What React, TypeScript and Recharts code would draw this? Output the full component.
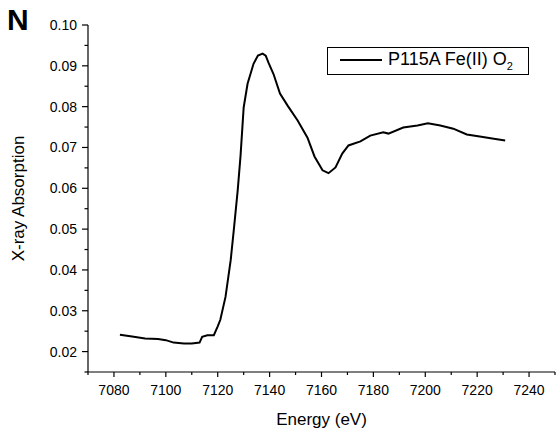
import { LineChart, Line, XAxis, YAxis, Legend } from "recharts";

const FONT = "'Liberation Sans', Arial, sans-serif";

// energy (eV) and absorption
const ENERGY = [
  7082.3, 7087, 7092, 7097, 7100, 7103, 7107, 7110, 7113, 7114, 7116, 7118.5,
  7120, 7121, 7123, 7125, 7126.2, 7127.7, 7128.8, 7130, 7131.5, 7133.8, 7135.5,
  7137.3, 7138.5, 7139.6, 7141.5, 7144, 7147, 7150.8, 7154.6, 7157.3, 7160.4,
  7162.7, 7165.4, 7168, 7170.4, 7175, 7178.8, 7183.8, 7185.8, 7191.5, 7197,
  7201, 7205.8, 7210.8, 7216, 7221, 7225.8, 7230.8,
];
const ABSORPTION = [
  0.0241, 0.0237, 0.0232, 0.0231, 0.0228, 0.0222, 0.022, 0.022, 0.0222, 0.0236,
  0.024, 0.024, 0.0262, 0.0278, 0.0334, 0.0424, 0.0498, 0.0595, 0.068, 0.0798,
  0.0856, 0.0905, 0.0925, 0.093, 0.0925, 0.0907, 0.088, 0.0832, 0.0802, 0.0766,
  0.0724, 0.0678, 0.0644, 0.0637, 0.0651, 0.0685, 0.0705, 0.0715, 0.0729,
  0.0737, 0.0734, 0.0749, 0.0754, 0.0759, 0.0754, 0.0746, 0.0732, 0.0727,
  0.0722, 0.0717,
];

const X_TICKS = [7070, 7080, 7090, 7100, 7110, 7120, 7130, 7140, 7150, 7160, 7170, 7180, 7190, 7200, 7210, 7220, 7230, 7240, 7250];
const X_LABELED = [7080, 7100, 7120, 7140, 7160, 7180, 7200, 7220, 7240];
const Y_TICKS = [0.015, 0.02, 0.025, 0.03, 0.035, 0.04, 0.045, 0.05, 0.055, 0.06, 0.065, 0.07, 0.075, 0.08, 0.085, 0.09, 0.095, 0.1];
const Y_LABELED = [0.02, 0.03, 0.04, 0.05, 0.06, 0.07, 0.08, 0.09, 0.1];

const data = ENERGY.map((e, i) => ({ energy: e, abs: ABSORPTION[i] }));

const XTick = (props: any) => {
  const { x, y, payload } = props;
  const major = X_LABELED.includes(payload.value);
  return (
    <g>
      <line x1={x} x2={x} y1={y} y2={y + (major ? 5 : 3)} stroke="#000" strokeWidth={1.2} />
      {major && (
        <text x={x} y={y + 23} textAnchor="middle" fontFamily={FONT} fontSize={14} fill="#000">
          {payload.value}
        </text>
      )}
    </g>
  );
};

const YTick = (props: any) => {
  const { x, y, payload } = props;
  const major = Y_LABELED.some((v) => Math.abs(v - payload.value) < 1e-9);
  return (
    <g>
      <line x1={x} x2={x - (major ? 6 : 3.5)} y1={y} y2={y} stroke="#000" strokeWidth={1.2} />
      {major && (
        <text x={x - 11} y={y + 5} textAnchor="end" fontFamily={FONT} fontSize={14} fill="#000">
          {payload.value.toFixed(2)}
        </text>
      )}
    </g>
  );
};

const LegendBox = () => (
  <div
    style={{
      width: 200,
      height: 26,
      border: "1px solid #000",
      background: "#fff",
      display: "flex",
      alignItems: "center",
      fontFamily: FONT,
      fontSize: 18,
      color: "#000",
    }}
  >
    <svg width={60} height={26}>
      <line x1={12} x2={54} y1={12} y2={12} stroke="#000" strokeWidth={2} />
    </svg>
    <span style={{ marginTop: -2 }}>
      P115A Fe(II) O<sub style={{ fontSize: 11, verticalAlign: -5 }}>2</sub>
    </span>
  </div>
);

export default function App() {
  return (
    <div style={{ position: "absolute", left: 0, top: 0, width: 559, height: 429, background: "#fff" }}>
      <div
        style={{
          position: "absolute",
          left: 7,
          top: 5,
          fontFamily: FONT,
          fontWeight: "bold",
          fontSize: 30,
          lineHeight: "30px",
        }}
      >
        N
      </div>
      <LineChart width={559} height={429} data={data} margin={{ top: 25, right: 4, bottom: 7, left: 0 }}>
        <XAxis
          dataKey="energy"
          type="number"
          domain={[7070, 7250]}
          ticks={X_TICKS}
          interval={0}
          tick={<XTick />}
          tickLine={false}
          tickSize={0}
          tickMargin={0}
          axisLine={{ stroke: "#000", strokeWidth: 1.2 }}
          height={50}
          label={{
            value: "Energy (eV)",
            position: "insideBottom",
            offset: -3,
            style: { fontFamily: FONT, fontSize: 17, fill: "#000" },
          }}
        />
        <YAxis
          type="number"
          domain={[0.015, 0.1]}
          ticks={Y_TICKS}
          interval={0}
          tick={<YTick />}
          tickLine={false}
          tickSize={0}
          tickMargin={0}
          axisLine={{ stroke: "#000", strokeWidth: 1.2 }}
          width={88}
          label={{
            value: "X-ray Absorption",
            angle: -90,
            position: "insideLeft",
            offset: 18,
            style: { fontFamily: FONT, fontSize: 17, fill: "#000", textAnchor: "middle" },
          }}
        />
        <Legend
          layout="horizontal"
          verticalAlign="middle"
          align="center"
          content={<LegendBox />}
          wrapperStyle={{ position: "absolute", left: 327, top: 47, width: "auto" }}
        />
        <Line
          dataKey="abs"
          type="linear"
          stroke="#000"
          strokeWidth={2}
          dot={false}
          isAnimationActive={false}
        />
      </LineChart>
    </div>
  );
}
